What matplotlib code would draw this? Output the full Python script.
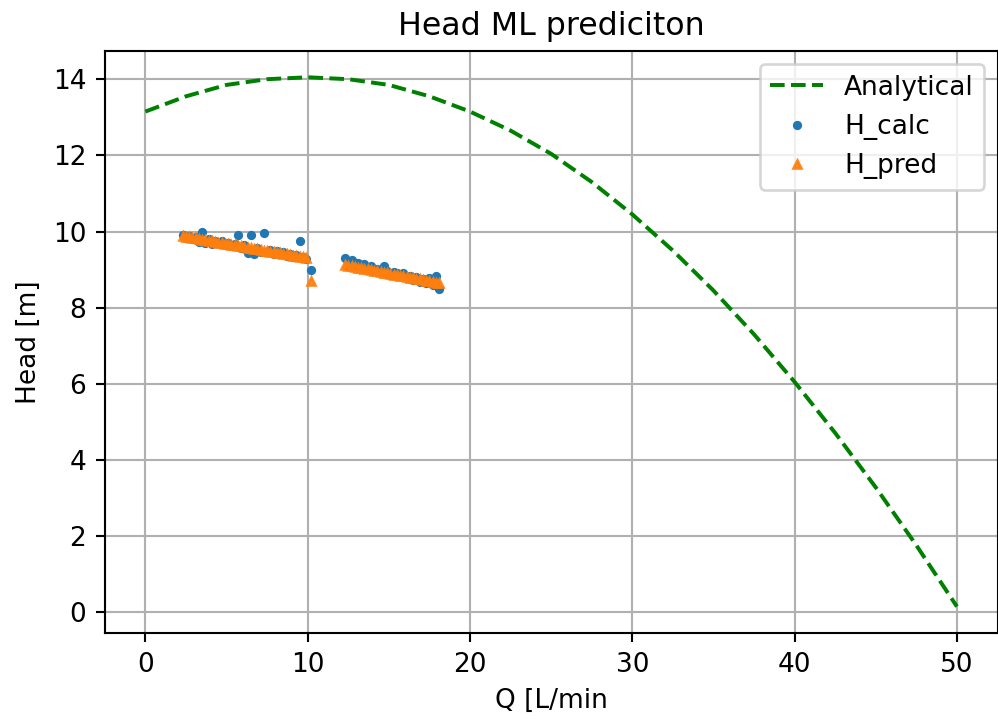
import numpy as np
import matplotlib
matplotlib.use("Agg")
import matplotlib.pyplot as plt

# analytical pump curve
q_an = [0, 2.5, 5, 7.5, 10, 12.5, 15, 17.5, 20, 22.5, 25, 27.5, 30,
        32.5, 35, 37.5, 40, 42.5, 45, 47.5, 50]
h_an = [13.15, 13.55, 13.85, 14.0, 14.05, 14.0, 13.85, 13.55, 13.15, 12.65,
        12.04, 11.30, 10.45, 9.50, 8.45, 7.30, 6.05, 4.71, 3.28, 1.76, 0.15]

# measured / predicted points
q1 = [2.3, 2.5, 2.7, 2.9, 3.1, 3.3, 3.5, 3.7, 3.9, 4.1, 4.3, 4.5, 4.7, 4.9,
      5.1, 5.3, 5.5, 5.7, 5.9, 6.1, 6.3, 6.5, 6.7, 6.9, 7.1, 7.3, 7.5, 7.7,
      7.9, 8.1, 8.3, 8.5, 8.7, 8.9, 9.1, 9.3, 9.5, 9.7, 9.9, 10.2]
calc1 = [9.90, 9.84, 9.88, 9.80, 9.86, 9.72, 10.00, 9.70, 9.80, 9.68, 9.76,
         9.70, 9.74, 9.66, 9.70, 9.62, 9.68, 9.90, 9.58, 9.64, 9.44, 9.90,
         9.42, 9.56, 9.45, 9.95, 9.46, 9.52, 9.42, 9.48, 9.40, 9.45, 9.36,
         9.42, 9.34, 9.38, 9.76, 9.33, 9.28, 8.99]
pred1 = [9.88, 9.86, 9.85, 9.83, 9.82, 9.80, 9.79, 9.77, 9.76, 9.74, 9.73,
         9.71, 9.70, 9.68, 9.67, 9.65, 9.64, 9.62, 9.61, 9.59, 9.58, 9.56,
         9.55, 9.53, 9.52, 9.50, 9.49, 9.47, 9.46, 9.44, 9.43, 9.41, 9.40,
         9.38, 9.37, 9.35, 9.34, 9.32, 9.30, 8.70]

q2 = [12.3, 12.5, 12.7, 12.9, 13.1, 13.3, 13.5, 13.7, 13.9, 14.1, 14.3, 14.5,
      14.7, 14.9, 15.1, 15.3, 15.5, 15.7, 15.9, 16.1, 16.3, 16.5, 16.7, 16.9,
      17.1, 17.3, 17.5, 17.7, 17.9, 18.1]
calc2 = [9.30, 9.22, 9.25, 9.12, 9.18, 9.08, 9.15, 9.04, 9.10, 8.98, 9.02,
         8.90, 9.10, 8.95, 8.86, 8.94, 8.92, 8.82, 8.90, 8.78, 8.84, 8.72,
         8.80, 8.68, 8.74, 8.64, 8.78, 8.60, 8.84, 8.50]
pred2 = [9.12, 9.10, 9.09, 9.07, 9.05, 9.04, 9.02, 9.01, 8.99, 8.97, 8.96,
         8.94, 8.92, 8.91, 8.89, 8.87, 8.86, 8.84, 8.82, 8.81, 8.79, 8.77,
         8.76, 8.74, 8.72, 8.71, 8.69, 8.67, 8.66, 8.64]

q_pts = q1 + q2
h_calc = calc1 + calc2
h_pred = pred1 + pred2

# small figure rendered at high dpi, like the original
dpi = 190
fig = plt.figure(figsize=(998 / dpi, 726 / dpi), dpi=dpi)
ax = fig.add_axes([0.105, 0.128, 0.8945, 0.802])

ax.plot(q_an, h_an, 'g--', label='Analytical')
ax.plot(q_pts, h_calc, '.', color='tab:blue', ms=5, label='H_calc')
ax.plot(q_pts, h_pred, '^', color='tab:orange', ms=3.2, alpha=0.9, label='H_pred')

ax.set_title('Head ML prediciton')
ax.set_xlabel('Q [L/min')
ax.set_ylabel('Head [m]')
ax.grid(True)
ax.legend(loc='upper right')

fig.savefig('out.png', dpi=dpi)
